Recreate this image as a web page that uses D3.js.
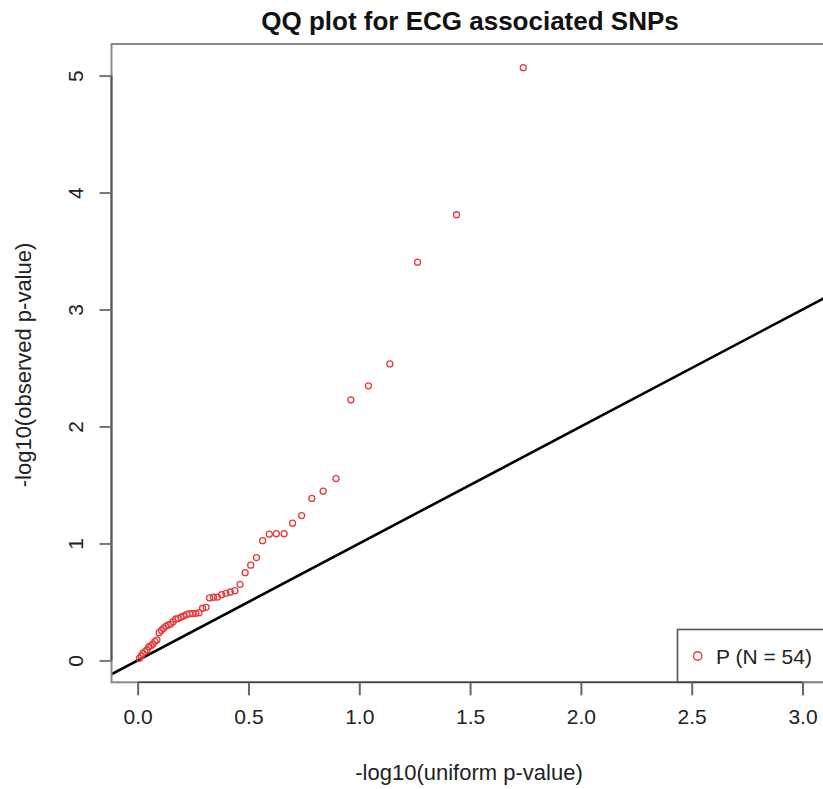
<!DOCTYPE html>
<html>
<head>
<meta charset="utf-8">
<script src="https://cdn.jsdelivr.net/npm/d3@7"></script>
<style>
  body { margin: 0; background: #fff; }
  svg { display: block; font-family: "Liberation Sans", Arial, Helvetica, sans-serif; }
</style>
</head>
<body>
<div id="chart"></div>
<script>
let title = "QQ plot for ECG associated SNPs";
let xLabel = "-log10(uniform p-value)";
let yLabel = "-log10(observed p-value)";
let legendLabel = "P (N = 54)";

// expected -log10 p (x), largest first
let expected = [1.740, 1.439, 1.263, 1.138, 1.041, 0.962, 0.895, 0.837, 0.786, 0.740,
  0.699, 0.661, 0.626, 0.594, 0.564, 0.536, 0.510, 0.485, 0.462, 0.439,
  0.418, 0.398, 0.379, 0.360, 0.342, 0.325, 0.309, 0.293, 0.277, 0.263,
  0.248, 0.234, 0.221, 0.208, 0.195, 0.183, 0.172, 0.160, 0.149, 0.138,
  0.128, 0.117, 0.107, 0.097, 0.087, 0.078, 0.069, 0.060, 0.051, 0.042,
  0.033, 0.024, 0.016, 0.008];

// observed -log10 p (y)
let observed = [5.068, 3.810, 3.405, 2.535, 2.348, 2.228, 1.555, 1.447, 1.385, 1.238,
  1.173, 1.084, 1.084, 1.079, 1.024, 0.879, 0.814, 0.750, 0.651, 0.596,
  0.585, 0.574, 0.562, 0.542, 0.540, 0.534, 0.454, 0.446, 0.408, 0.403,
  0.400, 0.400, 0.393, 0.380, 0.369, 0.358, 0.354, 0.331, 0.311, 0.303,
  0.294, 0.275, 0.256, 0.237, 0.175, 0.163, 0.140, 0.127, 0.117, 0.089,
  0.076, 0.061, 0.038, 0.018];

let xTicks = [0, 0.5, 1, 1.5, 2, 2.5, 3];
let yTicks = [0, 1, 2, 3, 4, 5];

let width = 823, height = 789;
let plot = {left: 111.5, right: 828, top: 44, bottom: 682.3};

let svg = d3.select("#chart").append("svg")
  .attr("width", width)
  .attr("height", height);

let x = d3.scaleLinear()
  .domain([-0.118, 3.115])
  .range([plot.left, plot.right]);

let y = d3.scaleLinear()
  .domain([-0.187, 5.27])
  .range([plot.bottom, plot.top]);

svg.append("clipPath").attr("id", "clip")
  .append("rect")
  .attr("x", plot.left).attr("y", plot.top)
  .attr("width", plot.right - plot.left)
  .attr("height", plot.bottom - plot.top);

// diagonal y = x
svg.append("line")
  .attr("clip-path", "url(#clip)")
  .attr("x1", x(-0.2)).attr("y1", y(-0.2))
  .attr("x2", x(3.2)).attr("y2", y(3.2))
  .attr("stroke", "#000")
  .attr("stroke-width", 2.6);

// points
svg.append("g")
  .attr("clip-path", "url(#clip)")
  .selectAll("circle")
  .data(expected.map((e, i) => ({x: e, y: observed[i]})))
  .join("circle")
  .attr("cx", d => x(d.x))
  .attr("cy", d => y(d.y))
  .attr("r", 3)
  .attr("fill", "none")
  .attr("stroke", "#e63b3b")
  .attr("stroke-width", 1.3);

// legend box
svg.append("rect")
  .attr("x", 677.5).attr("y", 629.5)
  .attr("width", plot.right - 677.5)
  .attr("height", plot.bottom - 629.5)
  .attr("fill", "#fff")
  .attr("stroke", "#555")
  .attr("stroke-width", 1.6);

svg.append("circle")
  .attr("cx", 697.7).attr("cy", 656)
  .attr("r", 4.2)
  .attr("fill", "none")
  .attr("stroke", "#e63b3b")
  .attr("stroke-width", 1.4);

svg.append("text")
  .attr("x", 716).attr("y", 663.5)
  .attr("font-size", 21)
  .attr("fill", "#222")
  .text(legendLabel);

// plot box
svg.append("rect")
  .attr("x", plot.left).attr("y", plot.top)
  .attr("width", plot.right - plot.left)
  .attr("height", plot.bottom - plot.top)
  .attr("fill", "none")
  .attr("stroke", "#8a8a8a")
  .attr("stroke-width", 2);

// x axis
let xAxis = svg.append("g")
  .attr("transform", `translate(0,${plot.bottom})`)
  .call(d3.axisBottom(x).tickValues(xTicks).tickFormat(d3.format(".1f")).tickSize(13).tickPadding(14));
xAxis.select(".domain")
  .attr("d", `M${x(0)},0H${x(3)}`)
  .attr("stroke", "#444").attr("stroke-width", 1.6);
xAxis.selectAll(".tick line").attr("stroke", "#666").attr("stroke-width", 2);
xAxis.selectAll(".tick text")
  .attr("font-size", 21)
  .attr("font-family", "Liberation Sans, Arial, sans-serif")
  .attr("fill", "#222");

// y axis
let yAxis = svg.append("g")
  .attr("transform", `translate(${plot.left},0)`)
  .call(d3.axisLeft(y).tickValues(yTicks).tickFormat(d3.format("d")).tickSize(12).tickPadding(17));
yAxis.select(".domain")
  .attr("d", `M0,${y(0)}V${y(5)}`)
  .attr("stroke", "#555").attr("stroke-width", 2);
yAxis.selectAll(".tick line").attr("stroke", "#777").attr("stroke-width", 2);
yAxis.selectAll(".tick text")
  .attr("font-size", 21)
  .attr("font-family", "Liberation Sans, Arial, sans-serif")
  .attr("fill", "#222")
  .attr("text-anchor", "middle")
  .attr("dy", 0)
  .attr("x", 0)
  .attr("transform", "translate(-29,0) rotate(-90)");

// titles
svg.append("text")
  .attr("x", 470).attr("y", 29.5)
  .attr("text-anchor", "middle")
  .attr("font-size", 26)
  .attr("font-weight", "bold")
  .attr("fill", "#111")
  .text(title);

svg.append("text")
  .attr("x", 469).attr("y", 780)
  .attr("text-anchor", "middle")
  .attr("font-size", 22)
  .attr("fill", "#222")
  .text(xLabel);

svg.append("text")
  .attr("transform", "translate(31,365) rotate(-90)")
  .attr("text-anchor", "middle")
  .attr("font-size", 22)
  .attr("fill", "#222")
  .text(yLabel);
</script>
</body>
</html>
